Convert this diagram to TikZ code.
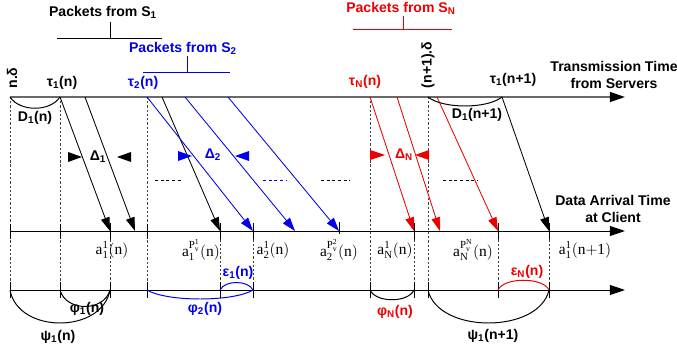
\documentclass[tikz,border=0pt]{standalone}
\usepackage{fontspec}
\setmainfont{Liberation Sans}
\setmathrm{Liberation Serif}
\usetikzlibrary{arrows.meta,positioning,calc}
\definecolor{axgray}{RGB}{105,105,105}
\definecolor{pblue}{RGB}{0,0,235}
\definecolor{pred}{RGB}{235,0,0}
\tikzset{
  taxis/.style={-{Triangle[length=3.8mm,width=2.5mm,black]},line width=1.1pt,draw=axgray},
  axis/.style={-{Triangle[length=3.8mm,width=2.5mm]},line width=0.7pt},
  pkt/.style={-{Triangle[length=3.4mm,width=2.2mm]},line width=0.6pt},
  guide/.style={line width=0.5pt,black!75,dash pattern=on 1.6pt off 1.4pt},
  pause/.style={line width=0.5pt,dash pattern=on 2.2pt off 1.8pt},
  tick/.style={line width=0.6pt},
  gap/.style={line width=0.7pt},
  brk/.style={line width=0.6pt},
  lbl/.style={font=\bfseries,inner sep=1pt},
  arr/.style={font=\fontsize{11}{13}\selectfont,inner sep=1pt},
}
\newcommand{\subs}[1]{\textsubscript{#1}}

\begin{document}
\begin{tikzpicture}[x=0.025cm,y=-0.025cm]
  \useasboundingbox (0,0) rectangle (677,354);
  % the three time axes
  \coordinate (ts) at (10,97);  \coordinate (te) at (625,97);
  \coordinate (as) at (10,231); \coordinate (ae) at (625,231);
  \coordinate (bs) at (10,290); \coordinate (be) at (625,290);
  \draw[taxis] (ts) -- (te);
  \draw[axis] (as) -- (ae);
  \draw[axis] (bs) -- (be);
  \node[lbl,align=center] (tx) at (614,75) {Transmission Time\\from Servers};
  \node[lbl,align=center] (rx) at (613,209) {Data Arrival Time\\at Client};

  % send instants
  \foreach \n/\x in {nd/10,t1/60,t2/147,tN/370,md/428}{
    \coordinate (\n) at (\x,97);
    \coordinate (\n b) at (\x,290);
    \draw[guide] (\n) -- (\n b);
    \draw[tick] (\x,282) -- (\x,298);
  }
  \foreach \x in {10,60,147}{\draw[tick] (\x,224) -- (\x,239);}
  \coordinate (t1m) at (502,97);

  % arrival instants
  \foreach \n/\x in {a11/110,a1P/220,a21/253,aN1/414,aNP/498,a1m/549}{
    \coordinate (\n) at (\x,231);
    \coordinate (\n b) at (\x,290);
    \draw[guide] (\n) -- (\n b);
    \draw[tick] (\x,223) -- (\x,239);
    \draw[tick] (\x,282) -- (\x,298);
  }
  \coordinate (a2P) at (339,231);
  \draw[tick] (339,222) -- (339,234);

  % packets
  \coordinate (s1b) at (85,97);  \coordinate (r1b) at (135,231);
  \coordinate (s1c) at (162,97);
  \coordinate (s2b) at (185,97); \coordinate (r2b) at (295,231);
  \coordinate (s2c) at (228,97);
  \coordinate (sNb) at (397,97); \coordinate (rNb) at (440,231);
  \coordinate (sNc) at (437,97);
  \draw[pkt] (t1) -- (a11);
  \draw[pkt] (s1b) -- (r1b);
  \draw[pkt] (s1c) -- (a1P);
  \draw[pkt,pblue] (t2) -- (a21);
  \draw[pkt,pblue] (s2b) -- (r2b);
  \draw[pkt,pblue] (s2c) -- (a2P);
  \draw[pkt,pred] (tN) -- (aN1);
  \draw[pkt,pred] (sNb) -- (rNb);
  \draw[pkt,pred] (sNc) -- (aNP);
  \draw[pkt] (t1m) -- (a1m);

  \draw[pause] (155,180) -- (183,180);
  \draw[pause,pblue] (263,180) -- (286,180);
  \draw[pause] (321,180) -- (350,180);
  \draw[pause] (443,180) -- (478,180);

  % spacing marks
  \fill (68,152) -- (82,157) -- (68,162) -- cycle;
  \fill (131,152) -- (117,157) -- (131,162) -- cycle;
  \node[lbl] (d1) at (98,157) {Δ\subs{1}};
  \fill[pblue] (178,151) -- (192,156) -- (178,161) -- cycle;
  \fill[pblue] (249,151) -- (235,156) -- (249,161) -- cycle;
  \node[lbl,pblue] (d2) at (213,155) {Δ\subs{2}};
  \fill[pred] (370,150) -- (385,155) -- (370,160) -- cycle;
  \fill[pred] (429,150) -- (415,155) -- (429,160) -- cycle;
  \node[lbl,pred] (dN) at (404,155) {Δ\subs{N}};

  % top labels
  \node[lbl,rotate=90] (ndl) at (12,78) {n.δ};
  \node[lbl,rotate=90] (mdl) at (428,65) {(n+1).δ};
  \node[lbl] (t1l) at (62,83) {τ\subs{1}(n)};
  \node[lbl,pblue] (t2l) at (143,83) {τ\subs{2}(n)};
  \node[lbl,pred] (tNl) at (365,82) {τ\subs{N}(n)};
  \node[lbl] (t1ml) at (513,80) {τ\subs{1}(n+1)};
  \draw[gap] (nd) .. controls +(10,15) and +(-10,15) .. (t1);
  \node[lbl] (D1) at (35,118) {D\subs{1}(n)};
  \draw[gap] (md) .. controls +(15,12) and +(-15,12) .. (t1m);
  \node[lbl] (D1m) at (477,115) {D\subs{1}(n+1)};

  % packet groups
  \node[lbl] (p1) at (103,12) {Packets from S\subs{1}};
  \draw[brk] (57,38) -- (162,38) (110,38) -- (110,22);
  \node[lbl,pblue] (p2) at (183,48) {Packets from S\subs{2}};
  \draw[brk,pblue] (143,72) -- (230,72) (187,72) -- (187,56);
  \node[lbl,pred] (pN) at (401,8) {Packets from S\subs{N}};
  \draw[brk,pred] (353,29) -- (452,29) (403,29) -- (403,16);

  % arrival labels
  \node[arr] (la11) at (112,250) {$\mathrm{a_1^1(n)}$};
  \node[arr] (la1P) at (201,250) {$\mathrm{a_1^{P_v^1}(n)}$};
  \node[arr] (la21) at (273,250) {$\mathrm{a_2^1(n)}$};
  \node[arr] (la2P) at (339,250) {$\mathrm{a_2^{P_v^2}(n)}$};
  \node[arr] (laN1) at (395,250) {$\mathrm{a_N^1(n)}$};
  \node[arr] (laNP) at (473,250) {$\mathrm{a_N^{P_v^N}(n)}$};
  \node[arr] (la1m) at (585,250) {$\mathrm{a_1^1(n{+}1)}$};

  % gaps at the client
  \draw[gap] (ndb) .. controls +(8,44) and +(-8,44) .. (a11b);
  \node[lbl] (psi1) at (58,337) {ψ\subs{1}(n)};
  \draw[gap] (t1b) .. controls +(6,22) and +(-6,22) .. (a11b);
  \node[lbl] (phi1) at (87,309) {φ\subs{1}(n)};
  \draw[gap,pblue] (t2b) .. controls +(20,12) and +(-20,12) .. (a21b);
  \node[lbl,pblue] (phi2) at (205,309) {φ\subs{2}(n)};
  \draw[gap,pblue] (a1Pb) .. controls +(5,-10) and +(-5,-10) .. (a21b);
  \node[lbl,pblue] (eps1) at (238,273) {ε\subs{1}(n)};
  \draw[gap] (tNb) .. controls +(6,13) and +(-6,13) .. (aN1b);
  \node[lbl,pred] (phiN) at (395,312) {φ\subs{N}(n)};
  \draw[gap] (mdb) .. controls +(10,44) and +(-10,44) .. (a1mb);
  \node[lbl] (psi1m) at (493,336) {ψ\subs{1}(n+1)};
  \draw[gap,pred] (aNPb) .. controls +(6,-13) and +(-6,-13) .. (a1mb);
  \node[lbl,pred] (epsN) at (527,272) {ε\subs{N}(n)};
\end{tikzpicture}
\end{document}
